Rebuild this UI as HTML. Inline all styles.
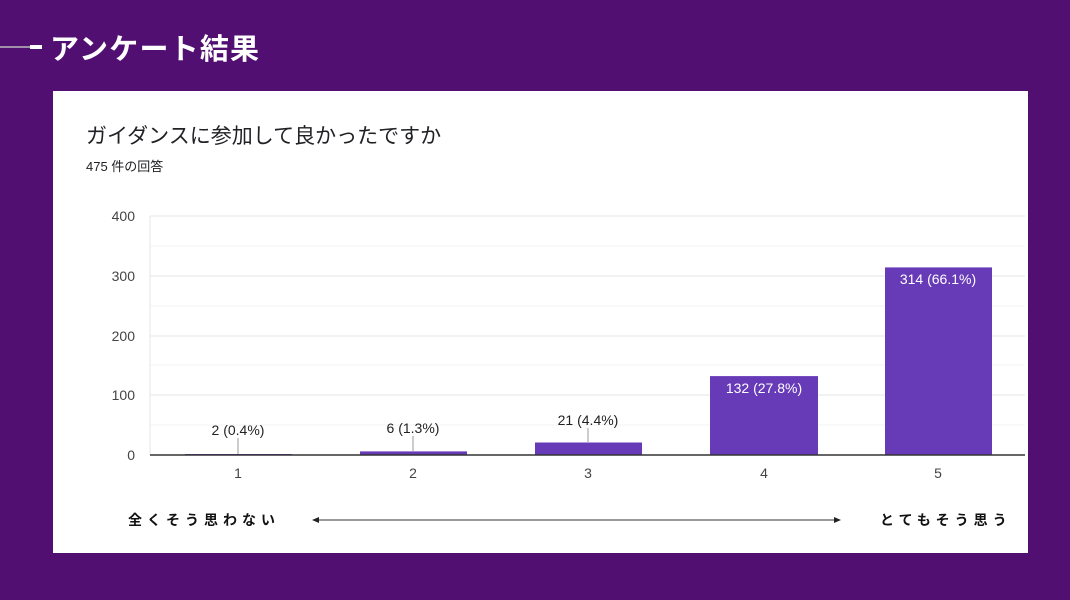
<!DOCTYPE html>
<html><head><meta charset="utf-8"><style>
html,body{margin:0;padding:0;background:#520f72;}
svg{display:block;font-family:"Liberation Sans","Noto Sans CJK JP",sans-serif;}
</style></head><body>
<svg width="1070" height="600" viewBox="0 0 1070 600">
<rect width="1070" height="600" fill="#520f72"/>
<line x1="0" y1="47" x2="30" y2="47" stroke="#bbb" stroke-width="1.5"/>
<rect x="30" y="45" width="12" height="4" fill="#fff"/>
<text x="50" y="59" font-size="29" font-weight="bold" fill="#fff" letter-spacing="1.2">アンケート結果</text>
<rect x="53" y="91" width="975" height="462" fill="#fff"/>
<text x="86" y="143" font-size="21" fill="#202124">ガイダンスに参加して良かったですか</text>
<text x="86" y="171" font-size="13" fill="#202124">475 件の回答</text>
<g stroke="#f3f3f3" stroke-width="1">
<line x1="150" y1="246" x2="1025" y2="246"/><line x1="150" y1="306" x2="1025" y2="306"/>
<line x1="150" y1="365" x2="1025" y2="365"/><line x1="150" y1="425" x2="1025" y2="425"/>
</g>
<g stroke="#e6e6e6" stroke-width="1">
<line x1="150" y1="216" x2="1025" y2="216"/><line x1="150" y1="276" x2="1025" y2="276"/>
<line x1="150" y1="336" x2="1025" y2="336"/><line x1="150" y1="395" x2="1025" y2="395"/>
<line x1="150" y1="216" x2="150" y2="455"/>
</g>
<g font-size="14" fill="#444" text-anchor="end">
<text x="135" y="221">400</text><text x="135" y="281">300</text><text x="135" y="341">200</text>
<text x="135" y="400">100</text><text x="135" y="460">0</text>
</g>
<g fill="#673ab7">
<rect x="185" y="454" width="107" height="1.2"/>
<rect x="360" y="451.4" width="107" height="3.6"/>
<rect x="535" y="442.5" width="107" height="12.5"/>
<rect x="710" y="376.1" width="108" height="78.9"/>
<rect x="885" y="267.4" width="107" height="187.6"/>
</g>
<line x1="150" y1="455" x2="1025" y2="455" stroke="#333" stroke-width="1.5"/>
<g stroke="#999" stroke-width="1">
<line x1="238" y1="438" x2="238" y2="454"/><line x1="413" y1="436" x2="413" y2="451"/><line x1="588" y1="428" x2="588" y2="442"/>
</g>
<g font-size="14" fill="#222" text-anchor="middle">
<text x="238" y="435">2 (0.4%)</text><text x="413" y="433">6 (1.3%)</text><text x="588" y="425">21 (4.4%)</text>
<text x="764" y="393" fill="#fff">132 (27.8%)</text><text x="938" y="284" fill="#fff">314 (66.1%)</text>
<text x="238" y="478" fill="#444">1</text><text x="413" y="478" fill="#444">2</text><text x="588" y="478" fill="#444">3</text>
<text x="764" y="478" fill="#444">4</text><text x="938" y="478" fill="#444">5</text>
</g>
<g font-size="14" font-weight="bold" fill="#111" letter-spacing="5">
<text x="128" y="525">全くそう思わない</text>
<text x="880" y="525">とてもそう思う</text>
</g>
<line x1="316" y1="520" x2="836" y2="520" stroke="#333" stroke-width="1"/>
<polygon points="312,520 319,517 319,523" fill="#222"/>
<polygon points="841,520 834,517 834,523" fill="#222"/>
</svg>
</body></html>
